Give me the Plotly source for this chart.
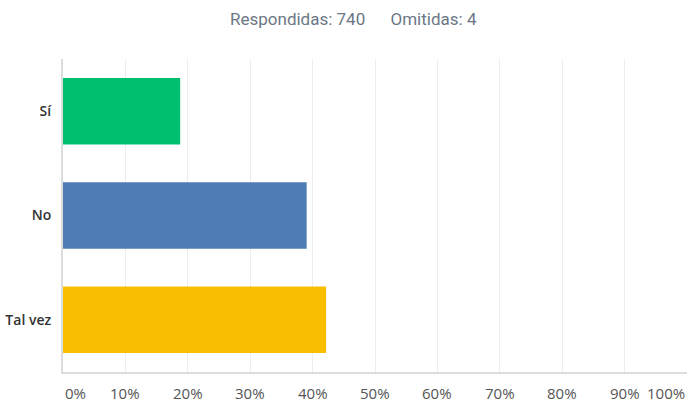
import plotly.graph_objects as go

categories = ["Sí", "No", "Tal vez"]
values = [18.78, 39.05, 42.16]
bar_colors = ["#00bf6f", "#507cb6", "#f9be00"]
tick_vals = [0, 10, 20, 30, 40, 50, 60, 70, 80, 90, 100]
tick_labels = ["0%", "10%", "20%", "30%", "40%", "50%", "60%", "70%", "80%", "90%", "100%"]
answered = 740
skipped = 4

fig = go.Figure()
fig.add_trace(go.Bar(
    y=categories, x=values, orientation="h",
    marker=dict(color=bar_colors, line=dict(width=0)),
    width=0.637, hoverinfo="skip",
))

annotations = []
for v, t in zip(tick_vals, tick_labels):
    anchor = "center"
    if v == tick_vals[0]:
        anchor = "left"
    elif v == tick_vals[-1]:
        anchor = "right"
    annotations.append(dict(
        x=v, y=0, xref="x", yref="paper", text=t, showarrow=False,
        xanchor=anchor, yanchor="middle", yshift=-21,
        font=dict(family="Open Sans", size=15, color="#555", weight=500),
    ))

nb = "\u00a0"
annotations.append(dict(
    x=(353 - 63) / (689 - 65), y=1 + 40 / 313, xref="paper", yref="paper",
    text=f"Respondidas: {answered}{nb*6}Omitidas: {skipped}",
    showarrow=False, xanchor="center", yanchor="middle",
    font=dict(family="Liberation Sans Narrow, Roboto", size=17, color="#6b7785"),
))

fig.update_layout(
    width=689, height=403,
    margin=dict(l=63, r=2, t=59, b=31, autoexpand=False),
    paper_bgcolor="white", plot_bgcolor="white",
    showlegend=False,
    annotations=annotations,
    xaxis=dict(
        range=[0, 100], tickvals=tick_vals, showticklabels=False,
        showgrid=True, gridcolor="#ededed", gridwidth=1,
        showline=True, linecolor="#dcdcdc", linewidth=2,
        zeroline=False, fixedrange=True,
    ),
    yaxis=dict(
        categoryorder="array", categoryarray=categories,
        autorange="reversed",
        showgrid=False, zeroline=False,
        showline=True, linecolor="#dcdcdc", linewidth=2,
        ticks="", ticklabelstandoff=7,
        tickfont=dict(family="Open Sans", size=14, color="#333", weight=600),
        fixedrange=True,
    ),
)

fig.write_html("out.html", config={"displayModeBar": False},
               post_script="document.body.style.margin='0';")
